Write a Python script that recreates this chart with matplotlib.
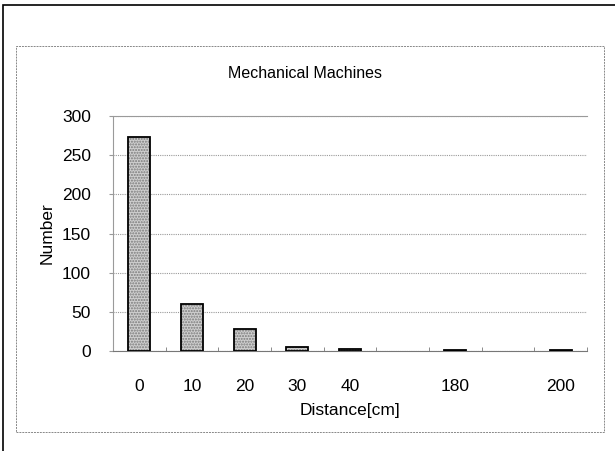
import matplotlib
matplotlib.use('Agg')
import matplotlib.pyplot as plt
from matplotlib.patches import Rectangle
import numpy as np

plt.rcParams['font.family'] = ['Liberation Sans', 'DejaVu Sans']

# data (blank slots are empty categories on the axis)
distance_labels = ['0', '10', '20', '30', '40', '', '180', '', '200']
counts = [273, 60, 28, 5, 3, 0, 1, 0, 1]
y_ticks = [0, 50, 100, 150, 200, 250, 300]

fig = plt.figure(figsize=(6.15, 4.51), dpi=100)
W, H = 615.0, 451.0
ax = fig.add_axes([113 / W, 1 - 351 / H, (587 - 113) / W, (351 - 116) / H])

x = np.arange(len(distance_labels))
shown = [i for i, lab in enumerate(distance_labels) if lab != '']
hx = x[shown]
hy = [counts[i] for i in shown]

# stippled fill, then black outline on top
ax.bar(hx, hy, width=0.42, color='#cfcfcf', hatch='......', edgecolor='#7a7a7a',
       linewidth=0, zorder=2)
ax.bar(hx, hy, width=0.42, fill=False, edgecolor='black', linewidth=1.3, zorder=3)

ax.set_xlim(-0.5, len(distance_labels) - 0.5)
ax.set_ylim(0, 300)
ax.set_yticks(y_ticks)
ax.set_xticks(x)
ax.set_xticklabels(distance_labels)
ax.set_xticks(np.arange(len(distance_labels) + 1) - 0.5, minor=True)
ax.tick_params(axis='x', which='major', length=0, pad=20, labelsize=12.5)
ax.tick_params(axis='x', which='minor', length=3, direction='in', color='#777777')
ax.tick_params(axis='y', length=3, direction='out', color='#999999', pad=13, labelsize=12.5)

ax.yaxis.grid(True, linestyle=(0, (1, 1)), color='#9a9a9a', linewidth=0.8)
ax.set_axisbelow(True)
ax.spines['right'].set_visible(False)
for side in ['top', 'left']:
    ax.spines[side].set_linestyle((0, (1, 1)))
    ax.spines[side].set_color('#9a9a9a')
    ax.spines[side].set_linewidth(0.8)
ax.spines['bottom'].set_color('#777777')
ax.spines['bottom'].set_linewidth(0.8)

ax.set_xlabel('Distance[cm]', fontsize=12.5, labelpad=7)
ax.set_ylabel('Number', fontsize=12.5, labelpad=5)

fig.text(305 / W, 1 - 74 / H, 'Mechanical Machines', ha='center', va='center', fontsize=11.5)

# inner chart frame (dashed) and outer scan frame
fig.patches.append(Rectangle((16 / W, 1 - 432 / H), (604 - 16) / W, (432 - 46) / H,
                             transform=fig.transFigure, fill=False,
                             edgecolor='#888888', linewidth=0.7, linestyle=(0, (2, 1))))
fig.patches.append(Rectangle((3 / W, -0.05), 1.1, 1 - 5 / H + 0.05,
                             transform=fig.transFigure, fill=False,
                             edgecolor='black', linewidth=1.2))

fig.savefig('out.png', dpi=100)
